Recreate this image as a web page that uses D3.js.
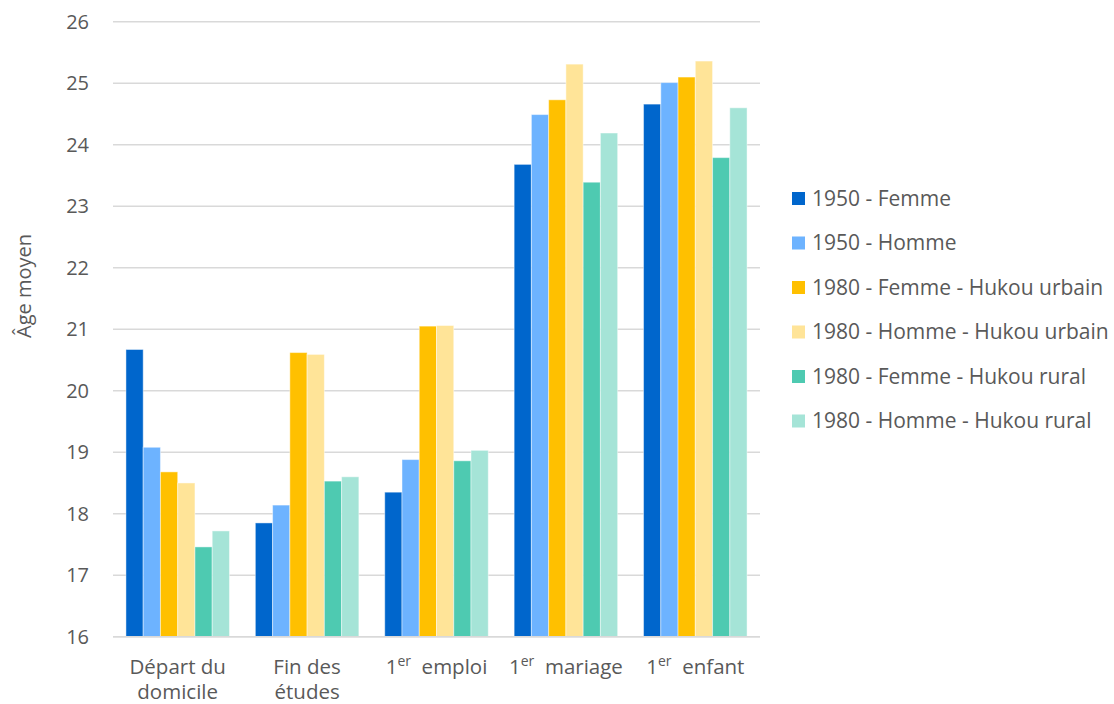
<!DOCTYPE html>
<html>
<head>
<meta charset="utf-8">
<script src="https://cdn.jsdelivr.net/npm/d3@7"></script>
<style>
  body { margin: 0; background: #fff; }
  text { font-family: "Open Sans", "Noto Sans", sans-serif; fill: #595959; }
</style>
</head>
<body>
<div id="chart"></div>
<script>
let w = 1114;
let h = 704;

// categories (x labels, split in lines; middle item = superscript part)
const categories = ["depart", "fin", "emploi", "mariage", "enfant"];
const catLabels = [
  [["Départ du"], ["domicile"]],
  [["Fin des"], ["études"]],
  [["1", "er", "emploi"]],
  [["1", "er", "mariage"]],
  [["1", "er", "enfant"]]
];

const seriesNames = [
  "1950 - Femme",
  "1950 - Homme",
  "1980 - Femme - Hukou urbain",
  "1980 - Homme - Hukou urbain",
  "1980 - Femme - Hukou rural",
  "1980 - Homme - Hukou rural"
];
const seriesColors = ["#0066CC", "#6DB3FF", "#FFC000", "#FFE498", "#4ECAB1", "#A5E4D7"];

// values per series, one per category
const femme1950 = [20.67, 17.85, 18.35, 23.68, 24.66];
const homme1950 = [19.08, 18.14, 18.88, 24.49, 25.01];
const femmeUrb1980 = [18.68, 20.62, 21.05, 24.73, 25.10];
const hommeUrb1980 = [18.50, 20.59, 21.06, 25.31, 25.36];
const femmeRur1980 = [17.46, 18.53, 18.86, 23.39, 23.79];
const hommeRur1980 = [17.72, 18.60, 19.03, 24.19, 24.60];
const seriesValues = [femme1950, homme1950, femmeUrb1980, hommeUrb1980, femmeRur1980, hommeRur1980];

const yTicks = [16, 17, 18, 19, 20, 21, 22, 23, 24, 25, 26];

let plotLeft = 113, plotRight = 760, plotTop = 21.7, plotBottom = 636.7;

const svg = d3.select("#chart")
  .append("svg")
  .attr("width", w)
  .attr("height", h);

const x0 = d3.scaleBand()
  .domain(categories)
  .range([plotLeft, plotRight])
  .paddingInner(0.2)
  .paddingOuter(0.1);

const x1 = d3.scaleBand()
  .domain(d3.range(seriesNames.length))
  .range([0, x0.bandwidth()]);

const yScale = d3.scaleLinear()
  .domain([16, 26])
  .range([plotBottom, plotTop]);

// gridlines
svg.append("g")
  .selectAll("line")
  .data(yTicks)
  .enter()
  .append("line")
  .attr("x1", plotLeft)
  .attr("x2", plotRight)
  .attr("y1", d => yScale(d))
  .attr("y2", d => yScale(d))
  .attr("stroke", "#d9d9d9")
  .attr("stroke-width", 1.5);

// y axis labels
const yAxis = d3.axisLeft(yScale).tickValues(yTicks).tickSize(0).tickPadding(0);
const yG = svg.append("g")
  .attr("transform", "translate(89,0)")
  .call(yAxis);
yG.select(".domain").remove();
yG.selectAll("text")
  .style("font-size", "20px")
  .attr("fill", "#595959")
  .attr("font-family", null);

svg.append("text")
  .attr("transform", "translate(31,286) rotate(-90)")
  .attr("text-anchor", "middle")
  .style("font-size", "20px")
  .text("Âge moyen");

// bars
const groups = svg.append("g")
  .selectAll("g")
  .data(categories)
  .enter()
  .append("g")
  .attr("transform", d => "translate(" + x0(d) + ",0)");

groups.selectAll("rect")
  .data((d, ci) => seriesValues.map((vals, si) => ({ si: si, v: vals[ci] })))
  .enter()
  .append("rect")
  .attr("x", d => x1(d.si))
  .attr("width", x1.bandwidth())
  .attr("y", d => yScale(d.v))
  .attr("height", d => plotBottom - yScale(d.v))
  .attr("fill", d => seriesColors[d.si])
  .attr("stroke", "rgba(255,255,255,0.45)")
  .attr("stroke-width", 1);

// bottom axis line
svg.append("line")
  .attr("x1", plotLeft)
  .attr("x2", plotRight)
  .attr("y1", plotBottom)
  .attr("y2", plotBottom)
  .attr("stroke", "#d9d9d9")
  .attr("stroke-width", 1.5);

// x labels (one text per category, lines as tspans)
categories.forEach((c, i) => {
  const cx = x0(c) + x0.bandwidth() / 2;
  const t = svg.append("text")
    .attr("x", cx)
    .attr("y", 674)
    .attr("text-anchor", "middle")
    .style("font-size", "20.5px");
  catLabels[i].forEach((line, li) => {
    if (line.length === 1) {
      t.append("tspan")
        .attr("x", cx)
        .attr("dy", li === 0 ? 0 : 25)
        .text(line[0]);
    } else {
      t.append("tspan").text(line[0]);
      t.append("tspan").attr("dy", -8).style("font-size", "14px").text(line[1]);
      t.append("tspan").attr("dy", 8).text("\u00a0\u00a0" + line[2]);
    }
  });
});

// legend
const legend = svg.append("g")
  .selectAll("g")
  .data(seriesNames)
  .enter()
  .append("g")
  .attr("transform", (d, i) => "translate(792," + (198.5 + i * 44.5) + ")");

legend.append("rect")
  .attr("x", 0)
  .attr("y", -6.5)
  .attr("width", 13)
  .attr("height", 13)
  .attr("fill", (d, i) => seriesColors[i]);

legend.append("text")
  .attr("x", 20)
  .attr("dy", "0.35em")
  .style("font-size", "21px")
  .text(d => d);
</script>
</body>
</html>
